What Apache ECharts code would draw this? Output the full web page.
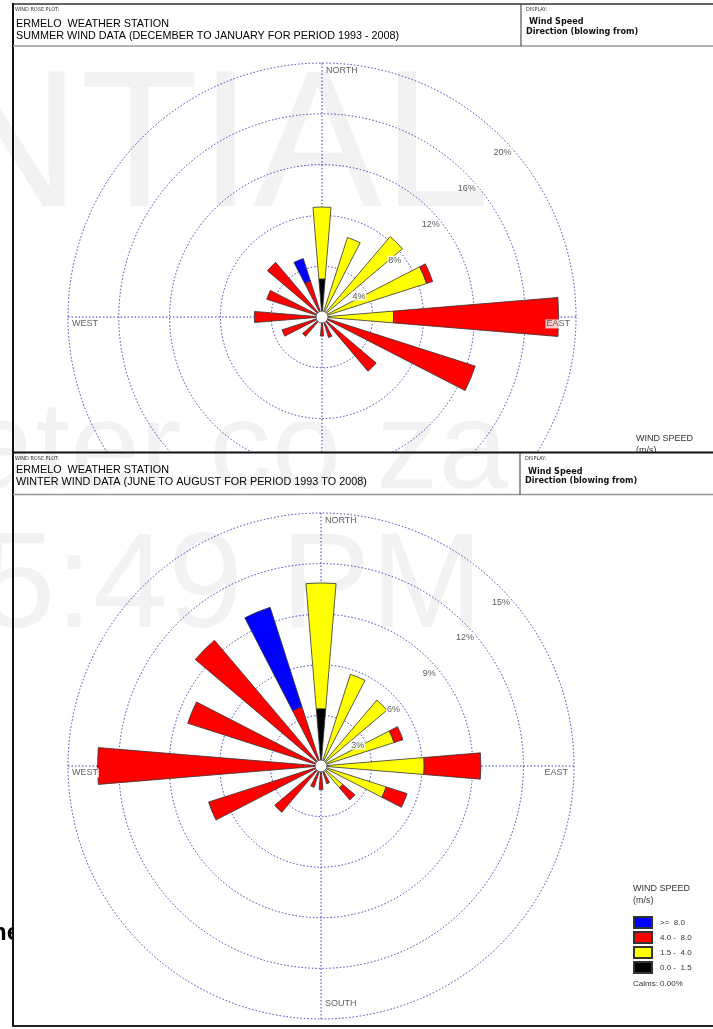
<!DOCTYPE html>
<html><head><meta charset="utf-8">
<script src="https://cdn.jsdelivr.net/npm/echarts@6/dist/echarts.min.js"></script>
<style>html,body{margin:0;padding:0;background:#fff}#c{width:713px;height:1029px}</style>
</head><body><div id="c"></div>
<script>
// ---------- DATA ----------
const directions = ['N','NNE','NE','ENE','E','ESE','SE','SSE','S','SSW','SW','WSW','W','WNW','NW','NNW'];
const speedClasses = ['0.0 -  1.5','1.5 -  4.0','4.0 -  8.0','>=  8.0'];
const legendOrder = ['>=  8.0','4.0 -  8.0','1.5 -  4.0','0.0 -  1.5'];

// Summer (percent frequency per class, stacked from the centre outward)
const summerCalmClass = [3.0,0,0,0,0,0,0,0,0,0,0,0,0,0,0,0];
const summerLight     = [5.66,6.57,8.3,8.65,5.64,0,0,0,0,0,0,0,0,0,0,0];
const summerModerate  = [0,0,0,0.5,13.0,12.67,5.6,1.7,1.5,0,2.0,3.3,5.33,4.57,5.64,2.98];
const summerStrong    = [0,0,0,0,0,0,0,0,0,0,0,0,0,0,0,1.85];

// Winter
const winterCalmClass = [3.4,0,0,0,0,0,0,0,0,0,0,0,0,0,0,0];
const winterLight     = [7.45,5.71,5.12,4.55,6.12,4.06,1.69,0,0,0,0,0,0,0,0,0];
const winterModerate  = [0,0,0,0.55,3.36,1.3,0.95,1.1,1.4,1.33,3.6,7.0,13.25,8.3,9.77,3.69];
const winterStrong    = [0,0,0,0,0,0,0,0,0,0,0,0,0,0,0,6.19];

const summerTicks = [4,8,12,16,20];
const summerTickLabels = ['4%','8%','12%','16%','20%'];
const winterTicks = [3,6,9,12,15];
const winterTickLabels = ['3%','6%','9%','12%','15%'];

const compassNames = ['NORTH','EAST','SOUTH','WEST'];
const compassAngles = [0,90,180,270];

// ---------- STYLE ----------
const FONT = '"Liberation Sans", Arial, sans-serif';
const NARROW = '"Liberation Sans Narrow", "Arial Narrow", "DejaVu Sans Condensed", sans-serif';
const ringColor = '#3d3dbd';
const classColors = ['#000000','#ffff00','#ff0000','#0000ff'];
const compassLabelStyle = [
  {position:[3,8], align:'left', verticalAlign:'middle'},
  {position:[-5,7], align:'right', verticalAlign:'middle'},
  {position:[3,-15], align:'left', verticalAlign:'middle'},
  {position:[3,7], align:'left', verticalAlign:'middle'}
];

const option = {animation:false, polar:[], angleAxis:[], radiusAxis:[], series:[],
  legend:{show:true, orient:'vertical', left:628, top:911, itemWidth:18, itemHeight:11, itemGap:2,
    icon:'rect', selectedMode:false, z:14, data:legendOrder,
    textStyle:{fontSize:8, color:'#333', fontFamily:FONT, padding:[0,0,0,3]}},
  graphic:{elements:[]}};

function addRose(cfg){
  const pb = option.polar.length;
  option.polar.push({center:cfg.center, radius:cfg.radius});
  option.polar.push({center:cfg.center, radius:cfg.radius});
  const pg = pb + 1;
  option.angleAxis.push({polarIndex:pb, type:'category', data:directions, startAngle:90+360/32, clockwise:true,
    boundaryGap:true, axisLine:{show:false}, axisTick:{show:false}, axisLabel:{show:false}, splitLine:{show:false}, z:cfg.z});
  option.radiusAxis.push({polarIndex:pb, type:'value', min:0, max:cfg.max, axisLine:{show:false},
    axisTick:{show:false}, axisLabel:{show:false}, splitLine:{show:false}, z:cfg.z});
  option.angleAxis.push({polarIndex:pg, type:'value', min:0, max:360, interval:90, startAngle:90, clockwise:true,
    axisLine:{show:false}, axisTick:{show:false}, axisLabel:{show:false},
    splitLine:{show:true, lineStyle:{color:ringColor, width:1, type:[1.5,2]}}, z:cfg.z});
  option.radiusAxis.push({polarIndex:pg, type:'value', min:0, max:cfg.max, interval:cfg.ticks[0],
    axisLine:{show:false}, axisTick:{show:false}, axisLabel:{show:false},
    splitLine:{show:true, lineStyle:{color:ringColor, width:1, type:[1.5,2]}}, z:cfg.z});
  cfg.classes.forEach((arr,k)=>{
    option.series.push({type:'bar', coordinateSystem:'polar', polarIndex:pb, name:speedClasses[k],
      stack:cfg.stack, barWidth:'42%', silent:true, z:cfg.z+1,
      data:arr.map(v=> v>0 ? v : null),
      itemStyle:{color:classColors[k], borderColor:'#333', borderWidth:0.8}});
  });
  option.series.push({type:'scatter', coordinateSystem:'polar', polarIndex:pg, symbolSize:0.1, silent:true,
    z:cfg.z+2, itemStyle:{color:'rgba(0,0,0,0)'},
    data:cfg.ticks.map(t=>[t,45]),
    label:{show:true, position:'inside', offset:[1,15], formatter:p=>cfg.tickLabels[p.dataIndex],
      fontSize:9, fontFamily:FONT, color:'#333', backgroundColor:'#fff', padding:[0,1]}});
  option.series.push({type:'scatter', coordinateSystem:'polar', polarIndex:pg, symbolSize:0.1, silent:true,
    z:cfg.z+2, itemStyle:{color:'rgba(0,0,0,0)'},
    data:compassNames.map((n,i)=>({value:[cfg.max, compassAngles[i]], name:n,
      label:Object.assign({show:true, formatter:n, fontSize:9, fontFamily:FONT, color:'#333',
        backgroundColor:'#fff', padding:[0,1]}, compassLabelStyle[i])}))});
  option.graphic.elements.push({type:'circle', shape:{cx:cfg.center[0], cy:cfg.center[1], r:6},
    style:{fill:'#fff', stroke:'#444', lineWidth:0.8}, z:cfg.z+3});
}

addRose({center:[322,317], radius:254, max:20, ticks:summerTicks, tickLabels:summerTickLabels,
  classes:[summerCalmClass, summerLight, summerModerate, summerStrong], stack:'summer', z:1});
addRose({center:[321,766], radius:253, max:15, ticks:winterTicks, tickLabels:winterTickLabels,
  classes:[winterCalmClass, winterLight, winterModerate, winterStrong], stack:'winter', z:12});

function txt(x,y,text,font,fill,z,align){
  return {type:'text', x:x, y:y, z:z, silent:true,
    style:{text:text, font:font, fill:fill, align:align||'left', verticalAlign:'middle'}};
}
function line(x1,y1,x2,y2,stroke,w,z){
  return {type:'line', shape:{x1,y1,x2,y2}, style:{stroke:stroke, lineWidth:w}, z:z, silent:true};
}
const G = option.graphic.elements;
// panel 1 frame + header
G.push(line(13,4,713,4,'#333',1.5,0));
G.push(line(13,3,13,452,'#111',2,0));
G.push(line(13,46,713,46,'#999',1.5,0));
G.push(line(521,4,521,46,'#333',1,0));
G.push(txt(15,9.5,'WIND ROSE PLOT:','5.5px '+NARROW,'#333',0));
G.push(txt(16,24.5,'ERMELO  WEATHER STATION','10.8px '+FONT,'#000',0));
G.push(txt(16,35.7,'SUMMER WIND DATA (DECEMBER TO JANUARY FOR PERIOD 1993 - 2008)','10.8px '+FONT,'#000',0));
G.push(txt(526,9.5,'DISPLAY:','5.5px '+NARROW,'#333',0));
G.push(txt(529,22,'Wind Speed','bold 9px '+NARROW,'#111',0));
G.push(txt(526,31.5,'Direction (blowing from)','bold 9px '+NARROW,'#111',0));
G.push(txt(636,438.7,'WIND SPEED','9px '+FONT,'#333',0));
G.push(txt(636,450.5,'(m/s)','9px '+FONT,'#333',0));
// stray text at left margin
G.push(txt(20,933,'ne','bold 24px '+FONT,'#000',5,'right'));
// panel 2 cover + frame + header
G.push({type:'rect', shape:{x:12,y:452,width:720,height:575}, style:{fill:'#fff'}, z:10, silent:true});
G.push(line(12,452.5,713,452.5,'#111',2,10));
G.push(line(13,452,13,1027,'#111',2,10));
G.push(line(12,1026,713,1026,'#222',2,10));
G.push(line(13,494.5,713,494.5,'#999',1.5,10));
G.push(line(520,452,520,494.5,'#333',1,10));
G.push(txt(15,459,'WIND ROSE PLOT:','5.5px '+NARROW,'#333',10));
G.push(txt(16,470,'ERMELO  WEATHER STATION','10.8px '+FONT,'#000',10));
G.push(txt(16,481.7,'WINTER WIND DATA (JUNE TO AUGUST FOR PERIOD 1993 TO 2008)','10.8px '+FONT,'#000',10));
G.push(txt(525,459,'DISPLAY:','5.5px '+NARROW,'#333',10));
G.push(txt(528,471.5,'Wind Speed','bold 9px '+NARROW,'#111',10));
G.push(txt(525,481,'Direction (blowing from)','bold 9px '+NARROW,'#111',10));
G.push(txt(633,889,'WIND SPEED','9px '+FONT,'#333',14));
G.push(txt(633,900.7,'(m/s)','9px '+FONT,'#333',14));
G.push(txt(633,983.5,'Calms: 0.00%','8px '+FONT,'#333',14));
// watermarks
const wm = 'rgba(0,0,0,0.05)';
G.push(txt(490,152,'CONFIDENTIAL','194px '+FONT,wm,11,'right'));
G.push(txt(508,454,'ater.co.za','125px '+FONT,wm,11,'right'));
G.push(txt(483,590,'5:49 PM','135px '+FONT,wm,11,'right'));

const chart = echarts.init(document.getElementById('c'));
chart.setOption(option);
</script></body></html>
